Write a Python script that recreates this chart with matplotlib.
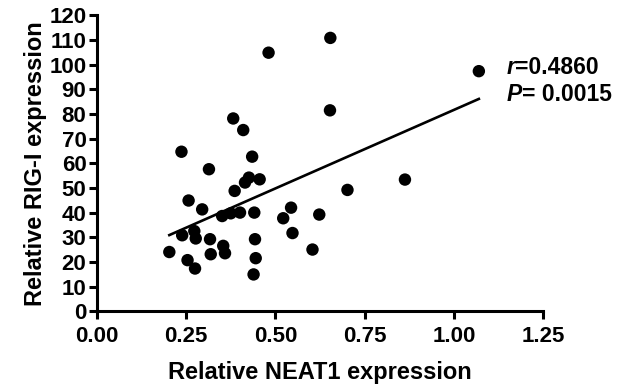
import numpy as np
import matplotlib
matplotlib.use("Agg")
import matplotlib.pyplot as plt

plt.rcParams['font.family'] = ['Liberation Sans', 'DejaVu Sans']
plt.rcParams['font.weight'] = 'bold'

neat1 = [0.654, 0.481, 1.070, 0.653, 0.382, 0.410, 0.237, 0.435, 0.314, 0.426,
         0.415, 0.456, 0.386, 0.702, 0.863, 0.257, 0.295, 0.351, 0.375, 0.401,
         0.441, 0.544, 0.522, 0.623, 0.548, 0.604, 0.239, 0.273, 0.277, 0.317,
         0.354, 0.359, 0.319, 0.203, 0.254, 0.275, 0.443, 0.445, 0.439]
rigi = [110.9, 104.9, 97.4, 81.5, 78.2, 73.5, 64.7, 62.7, 57.6, 54.2,
        52.2, 53.5, 48.8, 49.2, 53.4, 44.9, 41.3, 38.6, 39.7, 40.0,
        40.0, 42.0, 37.7, 39.2, 31.7, 25.0, 30.8, 32.5, 29.5, 29.2,
        26.5, 23.5, 23.1, 24.0, 20.7, 17.3, 29.2, 21.5, 14.9]
x_ticks = [0.00, 0.25, 0.50, 0.75, 1.00, 1.25]
y_ticks = list(range(0, 121, 10))
r_text = "0.4860"
p_text = " 0.0015"

fig = plt.figure(figsize=(6.33, 3.87), dpi=100)
ax = fig.add_axes([0.153, 0.196, 0.705, 0.764])

x = np.array(neat1)
y = np.array(rigi)
ax.scatter(x, y, s=80, color='black', edgecolors='none', zorder=3)
slope, intercept = np.polyfit(x, y, 1)
xs = np.array([x.min(), x.max()])
ax.plot(xs, slope * xs + intercept, color='black', lw=1.9, zorder=2)

ax.set_xlim(0, 1.25)
ax.set_ylim(0, 120)
ax.set_xticks(x_ticks)
ax.set_xticklabels([f"{t:.2f}" for t in x_ticks])
ax.set_yticks(y_ticks)
for s in ['top', 'right']:
    ax.spines[s].set_visible(False)
for s in ['left', 'bottom']:
    ax.spines[s].set_linewidth(2.2)
ax.tick_params(axis='both', which='major', length=6, width=2.2, labelsize=16,
               direction='out')
ax.tick_params(axis='y', pad=1.5)
ax.tick_params(axis='x', pad=4.5)
for lab in ax.get_xticklabels() + ax.get_yticklabels():
    lab.set_fontweight('bold')

ax.set_xlabel("Relative NEAT1 expression", fontsize=17, fontweight='bold', labelpad=10)
ax.set_ylabel("Relative RIG-I expression", fontsize=17, fontweight='bold', labelpad=2)

t1 = fig.text(0.800, 0.808, "r", fontsize=16.5, fontweight='bold', style='italic',
              ha='left', va='baseline')
ax.annotate("=" + r_text, xy=(1, 0), xycoords=t1, fontsize=16.5, fontweight='bold',
            ha='left', va='bottom', annotation_clip=False)
t2 = fig.text(0.800, 0.738, "P", fontsize=16.5, fontweight='bold', style='italic',
              ha='left', va='baseline')
ax.annotate("=" + p_text, xy=(1, 0), xycoords=t2, fontsize=16.5, fontweight='bold',
            ha='left', va='bottom', annotation_clip=False)

fig.savefig("out.png", dpi=100)
